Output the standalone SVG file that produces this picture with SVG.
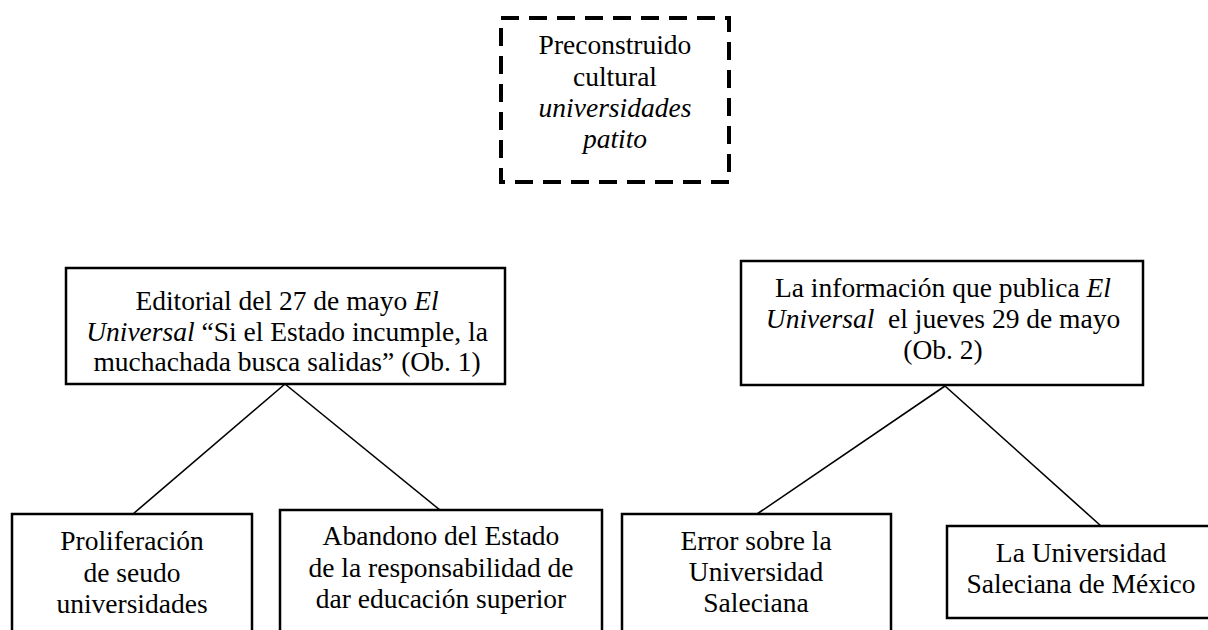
<svg xmlns="http://www.w3.org/2000/svg" width="1208" height="630" viewBox="0 0 1208 630">
<style>
text{font-family:"Liberation Serif","Times New Roman",serif;font-size:27.5px;fill:#000;text-anchor:middle}
.i{font-style:italic}
.box{fill:#fff;stroke:#000;stroke-width:2.5}
.dash{fill:none;stroke:#000;stroke-width:4;stroke-dasharray:18 10}
.conn{stroke:#000;stroke-width:1.6;fill:none}
</style>
<rect width="1208" height="630" fill="#fff"/>
<g id="connectors">
<line class="conn" x1="285" y1="384" x2="133" y2="514"/>
<line class="conn" x1="285" y1="384" x2="440" y2="510"/>
<line class="conn" x1="945" y1="386" x2="757" y2="514"/>
<line class="conn" x1="945" y1="386" x2="1101" y2="526"/>
</g>
<g id="preconstruido">
<rect class="dash" x="501" y="18" width="228" height="164"/>
<text x="615" y="54">Preconstruido</text>
<text x="615" y="86">cultural</text>
<text x="615" y="117" class="i">universidades</text>
<text x="615" y="148" class="i">patito</text>
</g>
<g id="editorial">
<rect class="box" x="66" y="268" width="439" height="116"/>
<text x="287" y="310">Editorial del 27 de mayo <tspan class="i">El</tspan></text>
<text x="287" y="341"><tspan class="i">Universal</tspan> “Si el Estado incumple, la</text>
<text x="287" y="371">muchachada busca salidas” (Ob. 1)</text>
</g>
<g id="informacion">
<rect class="box" x="741" y="261" width="402" height="124"/>
<text x="943" y="297">La información que publica <tspan class="i">El</tspan></text>
<text x="943" y="328"><tspan class="i">Universal</tspan>&#160; el jueves 29 de mayo</text>
<text x="943" y="359">(Ob. 2)</text>
</g>
<g id="proliferacion">
<rect class="box" x="12" y="514" width="240" height="130"/>
<text x="132" y="550">Proliferación</text>
<text x="132" y="582">de seudo</text>
<text x="132" y="613">universidades</text>
</g>
<g id="abandono">
<rect class="box" x="280" y="510" width="322" height="134"/>
<text x="441" y="545">Abandono del Estado</text>
<text x="441" y="577">de la responsabilidad de</text>
<text x="441" y="608">dar educación superior</text>
</g>
<g id="error">
<rect class="box" x="622" y="514" width="269" height="130"/>
<text x="756" y="550">Error sobre la</text>
<text x="756" y="581">Universidad</text>
<text x="756" y="612">Saleciana</text>
</g>
<g id="saleciana">
<rect class="box" x="947" y="526" width="268" height="92"/>
<text x="1081" y="562">La Universidad</text>
<text x="1081" y="593">Saleciana de México</text>
</g>
</svg>
